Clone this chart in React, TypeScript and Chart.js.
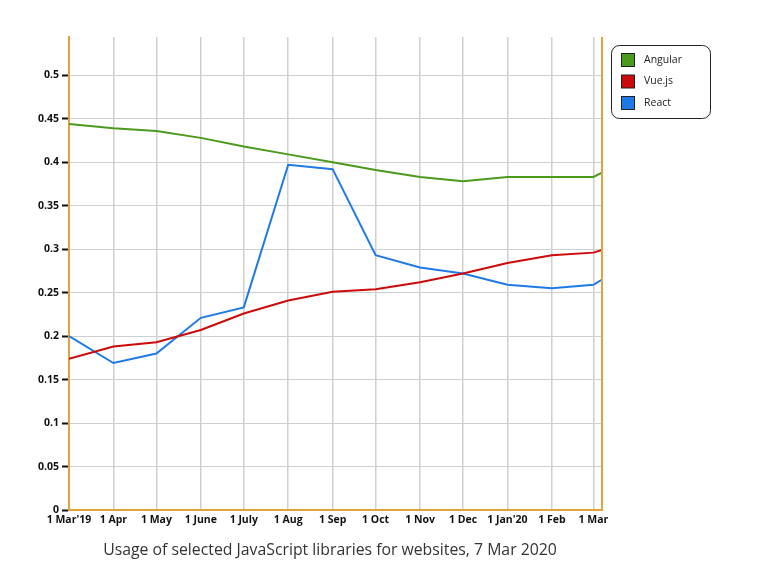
import React, { useEffect, useRef } from 'react';
import { Chart, registerables } from 'chart.js';

Chart.register(...registerables);

// days since 1 Mar 2019 for each observation (monthly, plus 7 Mar 2020)
const dayOffsets = [0, 31, 61, 92, 122, 153, 184, 214, 245, 275, 306, 337, 366, 372];
const tickDays = [0, 31, 61, 92, 122, 153, 184, 214, 245, 275, 306, 337, 366];
const tickLabels = ["1 Mar'19", '1 Apr', '1 May', '1 June', '1 July', '1 Aug', '1 Sep', '1 Oct', '1 Nov', '1 Dec', "1 Jan'20", '1 Feb', '1 Mar'];

const angular = [0.444, 0.439, 0.436, 0.428, 0.418, 0.409, 0.4, 0.391, 0.383, 0.378, 0.383, 0.383, 0.383, 0.388];
const vue = [0.174, 0.188, 0.193, 0.207, 0.226, 0.241, 0.251, 0.254, 0.262, 0.272, 0.284, 0.293, 0.296, 0.299];
const react = [0.2, 0.169, 0.18, 0.221, 0.233, 0.397, 0.392, 0.293, 0.279, 0.272, 0.259, 0.255, 0.259, 0.265];

const seriesNames = ['Angular', 'Vue.js', 'React'];
const seriesColors = ['#4a9a1c', '#cc0a0a', '#1f7ae8'];
const titleText = 'Usage of selected JavaScript libraries for websites, 7 Mar 2020';

const ORANGE = '#e3a23a';
const FONT = "'Open Sans', 'DejaVu Sans', sans-serif";

const decorPlugin = {
  id: 'decor',
  afterDraw(chart: any) {
    const { ctx, chartArea } = chart;
    ctx.save();
    // right border
    ctx.strokeStyle = ORANGE;
    ctx.lineWidth = 2;
    ctx.beginPath();
    ctx.moveTo(chartArea.right, chartArea.top);
    ctx.lineTo(chartArea.right, chartArea.bottom + 1);
    ctx.stroke();

    // legend box
    const lx = 611.5, ly = 45.5, lw = 99, lh = 73, r = 8;
    ctx.strokeStyle = '#222';
    ctx.lineWidth = 1;
    ctx.fillStyle = '#fff';
    ctx.beginPath();
    ctx.moveTo(lx + r, ly);
    ctx.lineTo(lx + lw - r, ly);
    ctx.arcTo(lx + lw, ly, lx + lw, ly + r, r);
    ctx.lineTo(lx + lw, ly + lh - r);
    ctx.arcTo(lx + lw, ly + lh, lx + lw - r, ly + lh, r);
    ctx.lineTo(lx + r, ly + lh);
    ctx.arcTo(lx, ly + lh, lx, ly + lh - r, r);
    ctx.lineTo(lx, ly + r);
    ctx.arcTo(lx, ly, lx + r, ly, r);
    ctx.closePath();
    ctx.fill();
    ctx.stroke();

    chart.data.datasets.forEach((ds: any, i: number) => {
      const cy = 60 + i * 21.5;
      ctx.fillStyle = ds.borderColor;
      ctx.fillRect(621.5, cy - 6.5, 13, 13);
      ctx.strokeStyle = '#222';
      ctx.strokeRect(621.5, cy - 6.5, 13, 13);
      ctx.fillStyle = '#222';
      ctx.font = `10.5px ${FONT}`;
      ctx.textBaseline = 'middle';
      ctx.textAlign = 'left';
      ctx.fillText(ds.label, 644, cy);
    });

    // title at bottom
    ctx.fillStyle = '#333';
    ctx.font = `15.8px ${FONT}`;
    ctx.textAlign = 'center';
    ctx.textBaseline = 'middle';
    ctx.fillText(titleText, 330, 550);
    ctx.restore();
  },
};

export default function App() {
  const ref = useRef<HTMLCanvasElement>(null);
  useEffect(() => {
    if (!ref.current) return;
    const mk = (arr: number[]) => arr.map((v, i) => ({ x: dayOffsets[i], y: v }));
    const chart = new Chart(ref.current, {
      type: 'line',
      data: {
        datasets: [angular, vue, react].map((arr, i) => ({
          label: seriesNames[i],
          data: mk(arr),
          borderColor: seriesColors[i],
          backgroundColor: seriesColors[i],
          borderWidth: 2,
          pointRadius: 0,
          tension: 0,
          fill: false,
        })),
      },
      options: {
        animation: false,
        responsive: false,
        maintainAspectRatio: false,
        layout: { padding: { left: 0, top: 37, right: 166, bottom: 38 } },
        plugins: {
          legend: { display: false },
          title: { display: false },
          tooltip: { enabled: false },
        },
        scales: {
          x: {
            type: 'linear',
            min: 0,
            max: 372,
            afterBuildTicks: (scale: any) => {
              scale.ticks = tickDays.map((d) => ({ value: d }));
            },
            afterFit: (scale: any) => {
              scale.height = 28;
            },
            ticks: {
              autoSkip: false,
              maxRotation: 0,
              padding: 4,
              color: '#111',
              font: { family: FONT, size: 10.5, weight: 'bold' },
              callback: (v: any) => {
                const idx = tickDays.indexOf(Number(v));
                return idx >= 0 ? tickLabels[idx] : '';
              },
            },
            grid: { color: '#cfcfcf', lineWidth: 1.5, drawTicks: false },
            border: { color: ORANGE, width: 2 },
          },
          y: {
            type: 'linear',
            min: 0,
            max: 0.544,
            afterBuildTicks: (scale: any) => {
              const t = [];
              for (let i = 0; i <= 10; i++) t.push({ value: +(i * 0.05).toFixed(2) });
              scale.ticks = t;
            },
            afterFit: (scale: any) => {
              scale.width = 69;
            },
            ticks: {
              padding: 3,
              color: '#111',
              font: { family: FONT, size: 10.5, weight: 'bold' },
              callback: (v: any) => String(+Number(v).toFixed(2)),
            },
            grid: { color: '#cfcfcf', lineWidth: 1, tickColor: '#111', tickLength: 7, tickWidth: 2 },
            border: { color: ORANGE, width: 2 },
          },
        },
      },
      plugins: [decorPlugin],
    });
    return () => chart.destroy();
  }, []);
  return (
    <div style={{ position: 'fixed', left: 0, top: 0, width: 768, height: 576, background: '#fff' }}>
      <canvas ref={ref} width={768} height={576} style={{ display: 'block' }} />
    </div>
  );
}
